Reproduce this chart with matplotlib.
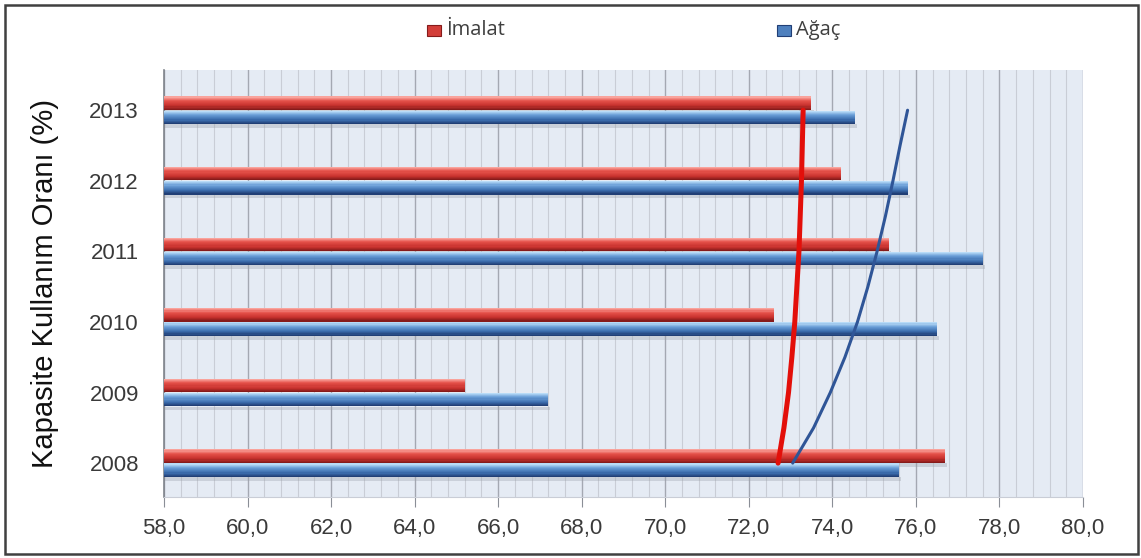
import numpy as np
import matplotlib.pyplot as plt
from matplotlib.colors import LinearSegmentedColormap
from matplotlib.patches import Rectangle

plt.rcParams['font.family'] = ['Liberation Sans', 'DejaVu Sans']

# data
years = ["2008", "2009", "2010", "2011", "2012", "2013"]
imalat = [76.7, 65.2, 72.6, 75.35, 74.2, 73.5]
agac = [75.6, 67.2, 76.5, 77.6, 75.8, 74.55]

# trend lines (values read at category positions, half steps for the curve)
trend_pos = [0, 0.5, 1, 1.5, 2, 2.5, 3, 3.5, 4, 4.5, 5]
imalat_trend = [72.7, 72.84, 72.95, 73.03, 73.1, 73.15, 73.2, 73.23, 73.26, 73.28, 73.3]
agac_trend = [73.05, 73.55, 73.95, 74.3, 74.6, 74.85, 75.07, 75.27, 75.45, 75.62, 75.8]

red_cmap = LinearSegmentedColormap.from_list(
    "r", [(0, "#f9a39c"), (0.3, "#e5514a"), (0.7, "#c8322e"), (1, "#861b1b")])
blue_cmap = LinearSegmentedColormap.from_list(
    "b", [(0, "#b8dbf7"), (0.3, "#6b9fd8"), (0.7, "#3c6eae"), (1, "#213f76")])


def gradient_barh(ax, pos, vals, height, cmap, base, n=12):
    # draw each bar as stacked thin strips, light on top, dark at bottom
    strip = height / n
    for k in range(n):
        col = cmap(k / (n - 1))
        yc = pos + height / 2 - strip * (k + 0.5)
        ax.barh(yc, np.array(vals) - base, left=base, height=strip * 1.05,
                color=col, edgecolor="none", zorder=3)
    # soft shadow below
    ax.barh(pos - height / 2 - 0.03, np.array(vals) - base + 0.05, left=base,
            height=0.05, color="#9aa0aa", alpha=0.35, edgecolor="none", zorder=2)


fig = plt.figure(figsize=(11.41, 5.58), dpi=100)
ax = fig.add_axes([0.1437, 0.1093, 0.8055, 0.7653])
ax.set_facecolor("#e5ebf4")

base = 58.0
y = np.arange(len(years))
h = 0.19
gradient_barh(ax, y + 0.1, imalat, h, red_cmap, base)
gradient_barh(ax, y - 0.1, agac, h, blue_cmap, base)

ax.plot(imalat_trend, trend_pos, color="#e30f0a", lw=3.6, zorder=5,
        solid_capstyle="round", solid_joinstyle="round")
ax.plot(agac_trend, trend_pos, color="#2f5597", lw=2.2, zorder=5,
        solid_capstyle="round", solid_joinstyle="round")

ax.set_xlim(58, 80)
ax.set_ylim(-0.48, 5.57)
ax.set_xticks(np.arange(58, 80.1, 2))
ax.set_xticklabels([f"{v:.1f}".replace(".", ",") for v in np.arange(58, 80.1, 2)],
                   fontsize=16, color="#3a3a3a")
ax.set_xticks(np.arange(58, 80.01, 0.4), minor=True)
ax.grid(axis="x", which="major", color="#a4a8b2", lw=1.0, zorder=1)
ax.grid(axis="x", which="minor", color="#c9cdd6", lw=0.8, zorder=1)
ax.tick_params(axis="x", which="major", length=7, color="#8a8e96", pad=8)
ax.tick_params(axis="x", which="minor", length=0)

ax.set_yticks(y)
ax.set_yticklabels(years, fontsize=16, color="#3a3a3a")
ax.tick_params(axis="y", length=0, pad=18)
ax.set_ylabel("Kapasite Kullanım Oranı (%)", fontsize=21, color="#111111",
              labelpad=22)

for s in ["top", "right"]:
    ax.spines[s].set_visible(False)
ax.spines["left"].set_color("#7f848c")
ax.spines["left"].set_linewidth(1.2)
ax.spines["bottom"].set_color("#c9cdd6")

# legend drawn at the top
def legend_item(x, label, cmap):
    fig.patches.append(Rectangle((x / 1141, 1 - 36 / 558), 14 / 1141, 11 / 558,
                                 transform=fig.transFigure,
                                 facecolor=cmap(0.55), edgecolor=cmap(1.0), lw=0.8))
    fig.text((x + 19) / 1141, 1 - 30 / 558, label, fontsize=14.5,
             color="#404040", va="center", ha="left",
             family=["Open Sans", "DejaVu Sans"])

legend_item(427, "İmalat", red_cmap)
legend_item(777, "Ağaç", blue_cmap)

# outer frame
fig.patches.append(Rectangle((5 / 1141, 4 / 558), 1133 / 1141, 549 / 558,
                             transform=fig.transFigure, fill=False,
                             edgecolor="#404040", lw=1.8))

fig.savefig("out.png", dpi=100)
